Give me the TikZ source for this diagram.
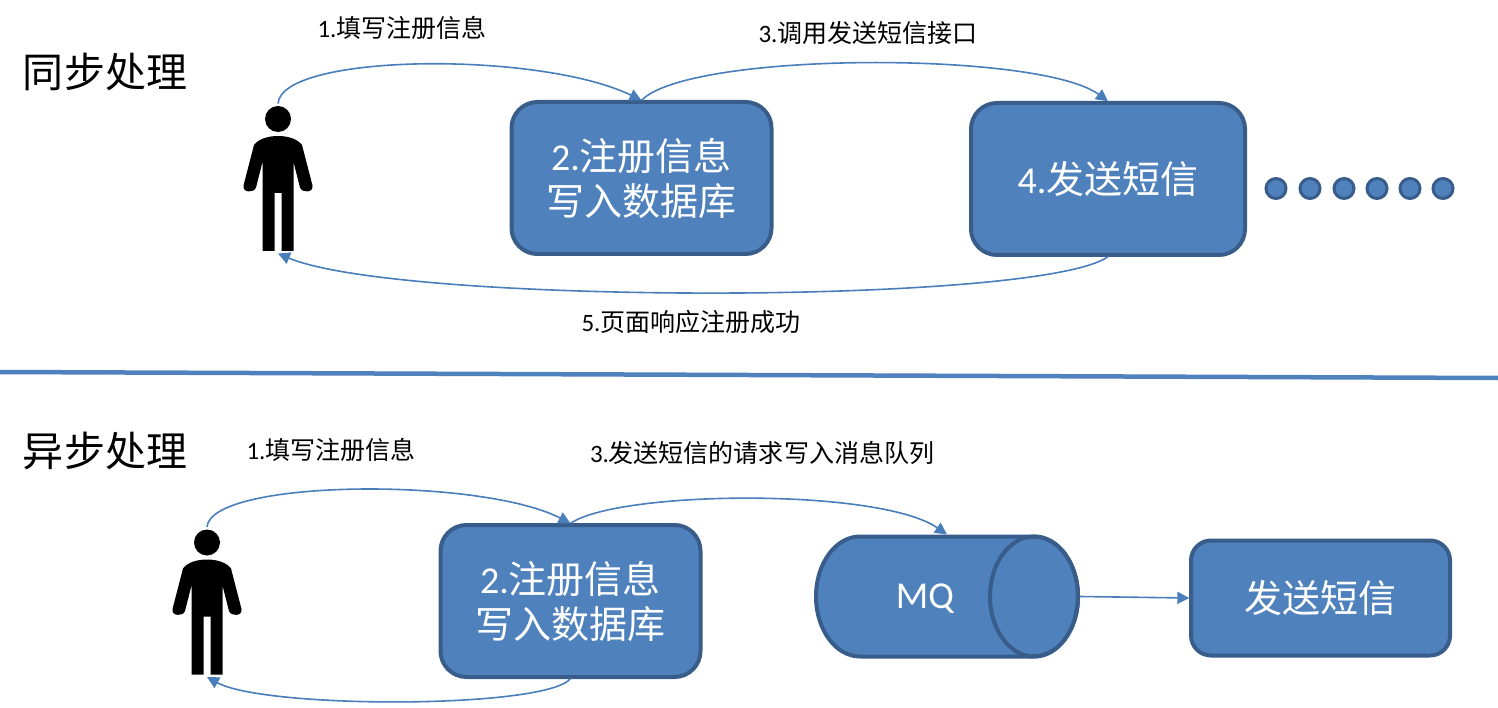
\documentclass[tikz,border=0pt]{standalone}
\usepackage{fontspec}
\setmainfont{Carlito}
\newfontfamily\cjk{Noto Sans CJK SC}
\usetikzlibrary{arrows.meta}
\definecolor{fillblue}{HTML}{4F81BD}
\definecolor{edgeblue}{HTML}{385D8A}
\definecolor{lineblue}{HTML}{4A7EBB}
\tikzset{
  x=1pt,y=-1pt,
  bluebox/.style={draw=edgeblue,fill=fillblue,line width=4pt,rounded corners=26pt,text=white,align=center,inner sep=0pt,outer sep=1.7pt,font=\fontsize{38}{45}\selectfont},
  dotc/.style={circle,draw=edgeblue,fill=fillblue,line width=3pt,minimum size=20pt,inner sep=0pt},
  conn/.style={draw=lineblue,line width=1.6pt,-{Triangle[length=12pt,width=12pt]}},
  lab/.style={inner sep=0pt,font=\fontsize{25}{28}\selectfont},
  title/.style={inner sep=0pt,font=\fontsize{41}{46}\selectfont\cjk},
  personbox/.style={minimum width=70pt,minimum height=146pt,inner sep=0pt,outer sep=2pt},
  person/.pic={
    \fill[black] (0,-59.5) circle[radius=13];
    \fill[black] (0,-42.5) .. controls (-11,-42.5) and (-20,-39) .. (-24,-33.5)
      -- (-34.5,7) .. controls (-36,14) and (-24,15) .. (-22,9)
      -- (-15.5,-16.5) -- (-15.5,72.5) -- (-3.5,72.5) -- (-3.5,14.5) -- (3.5,14.5) -- (3.5,72.5) -- (15.5,72.5) -- (15.5,-16.5)
      -- (22,9) .. controls (24,15) and (36,14) .. (34.5,7)
      -- (24,-33.5) .. controls (20,-39) and (11,-42.5) .. (0,-42.5) -- cycle;
  }
}
\begin{document}
\begin{tikzpicture}
\useasboundingbox (0,0) rectangle (1498,708);
\coordinate (divL) at (0,372);
\coordinate (divR) at (1498,378);
\draw[fillblue,line width=4.5pt] (divL) -- (divR);

\node[title] (t1) at (105,72) {同步处理};
\node[title] (t2) at (105,451) {异步处理};

% synchronous row
\node[personbox] (p1) at (278,178.5) {};
\pic at (p1) {person};
\node[bluebox,minimum width=260pt,minimum height=152pt] (b1) at (641.5,178) {2.{\cjk 注册信息}\\{\cjk 写入数据库}};
\node[bluebox,minimum width=274pt,minimum height=152pt] (b2) at (1108,179) {\raisebox{-2pt}{4.{\cjk 发送短信}}};
\foreach \n/\x in {1/1276,2/1310,3/1344,4/1377,5/1410,6/1443}{
  \node[dotc] (d\n) at (\x,188.5) {};
}
\draw[conn] (p1.north) .. controls (282,53) and (540,51) .. (b1.north);
\draw[conn] (b1.north) .. controls (690,51) and (1040,51) .. (b2.north);
\draw[conn] (b2.south) .. controls (1040,305) and (400,305) .. (p1.south);
\node[lab] (l1) at (402,28) {1.{\cjk 填写注册信息}};
\node[lab] (l2) at (868,33) {3.{\cjk 调用发送短信接口}};
\node[lab] (l3) at (691,322) {5.{\cjk 页面响应注册成功}};

% asynchronous row
\node[personbox] (p2) at (207,602) {};
\pic at (p2) {person};
\node[bluebox,minimum width=260pt,minimum height=152pt] (b3) at (570.5,601) {2.{\cjk 注册信息}\\{\cjk 写入数据库}};
\filldraw[fill=fillblue,draw=edgeblue,line width=4pt] (860,536.5) -- (1034,536.5) arc[start angle=-90,end angle=90,x radius=44,y radius=60] -- (860,656.5) arc[start angle=90,end angle=270,x radius=44,y radius=60] -- cycle;
\draw[edgeblue,line width=4pt] (1034,596.5) ellipse[x radius=44,y radius=60];
\node[minimum width=262pt,minimum height=120pt,inner sep=0pt,outer sep=2pt] (mq) at (947,596.5) {};
\node[inner sep=0pt,text=white,font=\fontsize{38}{45}\selectfont] (mqt) at (925,599) {MQ};
\node[bluebox,rounded corners=20pt,minimum width=259pt,minimum height=115pt] (b4) at (1320.5,598) {\cjk 发送短信};
\draw[conn] (p2.north) .. controls (211,479) and (480,477) .. (b3.north);
\draw[conn] (b3.north) .. controls (620,490) and (880,488) .. (mq.north);
\draw[conn] (mq.east) -- (b4.west);
\draw[conn] (b3.south) .. controls (545,709) and (265,709) .. (p2.south);
\node[lab] (l4) at (331,450) {1.{\cjk 填写注册信息}};
\node[lab] (l5) at (762,453) {3.{\cjk 发送短信的请求写入消息队列}};
\end{tikzpicture}
\end{document}
